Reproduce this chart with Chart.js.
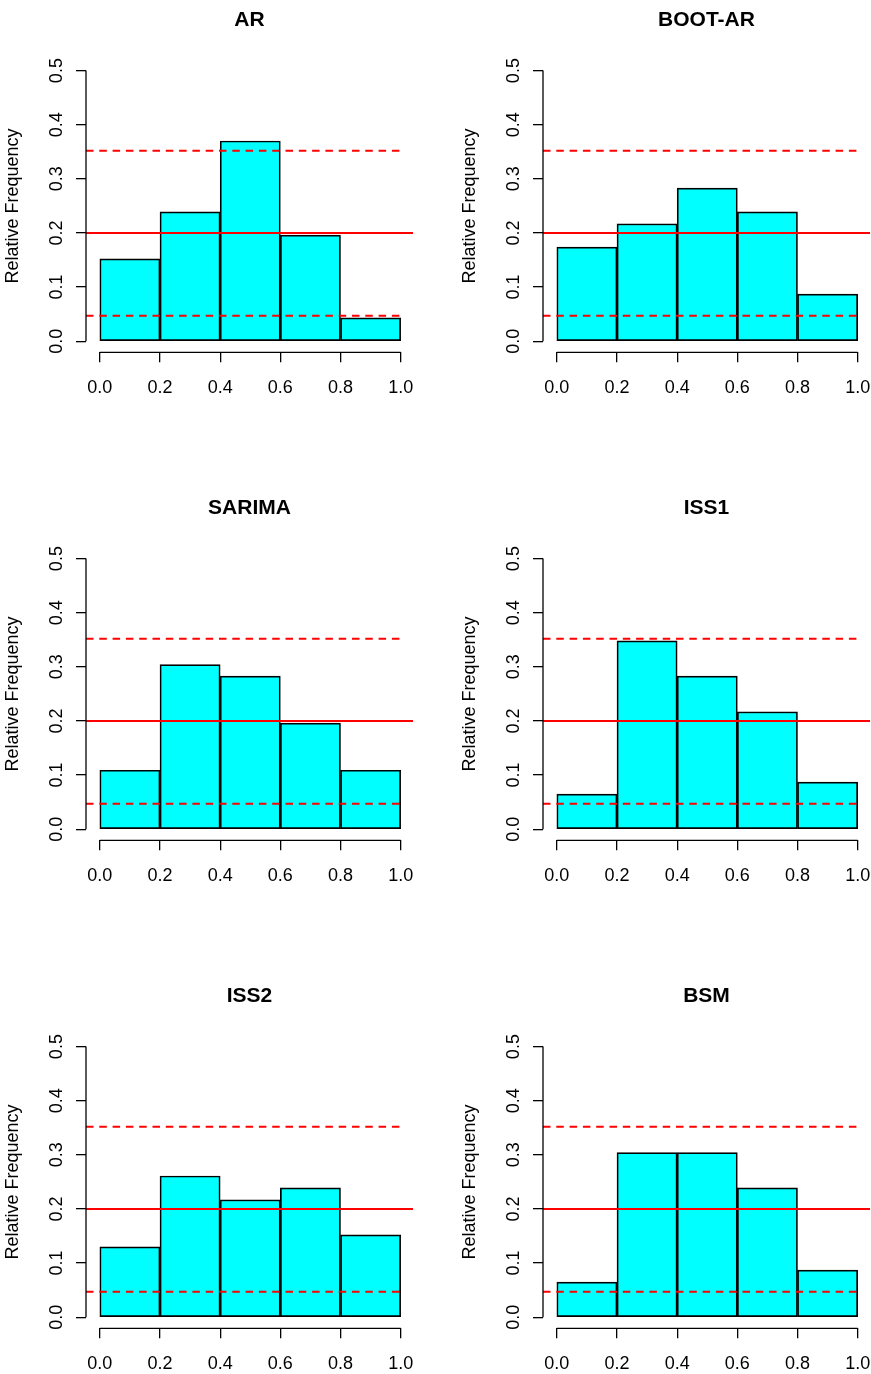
<!DOCTYPE html>
<html>
<head>
<meta charset="utf-8">
<script src="https://cdn.jsdelivr.net/npm/chart.js@4/dist/chart.umd.min.js"></script>
<style>
  html, body { margin: 0; padding: 0; background: #fff; width: 871px; height: 1374px; overflow: hidden; position: relative; }
  canvas { position: absolute; }
</style>
</head>
<body>
<script>
// ---- data ----
const panelTitles = ["AR", "BOOT-AR", "SARIMA", "ISS1", "ISS2", "BSM"];
const binCenters = [0.1, 0.3, 0.5, 0.7, 0.9];
const arFreq     = [0.152, 0.239, 0.370, 0.196, 0.043];
const bootArFreq = [0.174, 0.217, 0.283, 0.239, 0.087];
const sarimaFreq = [0.109, 0.304, 0.283, 0.196, 0.109];
const iss1Freq   = [0.065, 0.348, 0.283, 0.217, 0.087];
const iss2Freq   = [0.130, 0.261, 0.217, 0.239, 0.152];
const bsmFreq    = [0.065, 0.304, 0.304, 0.239, 0.087];
const xTickValues = [0, 0.2, 0.4, 0.6, 0.8, 1.0];
const yTickValues = [0, 0.1, 0.2, 0.3, 0.4, 0.5];
const expectedLevel = 0.2;
const upperBound = 0.352;
const lowerBound = 0.047;
const yAxisLabel = "Relative Frequency";

const seriesList = [arFreq, bootArFreq, sarimaFreq, iss1Freq, iss2Freq, bsmFreq];

// ---- layout ----
const W = 457, H = 488;
const XMIN = -0.046, XMAX = 1.041, YMIN = -0.0205, YMAX = 0.52;
const FONT = "'Liberation Sans', Arial, Helvetica, sans-serif";

const rAxisPlugin = {
  id: 'rAxis',
  afterDraw(chart, args, opts) {
    const ctx = chart.ctx;
    const xs = chart.scales.x, ys = chart.scales.y;
    const ca = chart.chartArea;
    ctx.save();
    ctx.strokeStyle = '#000';
    ctx.lineWidth = 1.3;
    // y axis line from first to last tick
    ctx.beginPath();
    ctx.moveTo(ca.left, ys.getPixelForValue(yTickValues[0]));
    ctx.lineTo(ca.left, ys.getPixelForValue(yTickValues[yTickValues.length - 1]));
    ctx.stroke();
    // x axis line
    ctx.beginPath();
    ctx.moveTo(xs.getPixelForValue(xTickValues[0]), ca.bottom);
    ctx.lineTo(xs.getPixelForValue(xTickValues[xTickValues.length - 1]), ca.bottom);
    ctx.stroke();
    // title
    ctx.fillStyle = '#000';
    ctx.font = "bold 21px " + FONT;
    ctx.textAlign = 'center';
    ctx.textBaseline = 'middle';
    ctx.fillText(opts.title, (ca.left + ca.right) / 2, 20);
    ctx.restore();
  }
};

function makeChart(idx) {
  const col = idx % 2, row = Math.floor(idx / 2);
  const cv = document.createElement('canvas');
  cv.width = W; cv.height = H;
  cv.style.width = W + 'px'; cv.style.height = H + 'px';
  cv.style.left = (col === 0 ? -21 : 436) + 'px';
  cv.style.top = (row * 488) + 'px';
  document.body.appendChild(cv);

  const vals = seriesList[idx];
  const redLine = (y, xEnd, dash) => ({
    type: 'line',
    data: [{ x: XMIN, y: y }, { x: xEnd, y: y }],
    borderColor: '#ff0000',
    borderWidth: 1.9,
    borderDash: dash,
    borderCapStyle: 'butt',
    pointRadius: 0,
    fill: false,
    tension: 0
  });

  new Chart(cv, {
    type: 'bar',
    data: {
      datasets: [
        redLine(expectedLevel, XMAX, []),
        redLine(upperBound, xTickValues[xTickValues.length - 1], [7.5, 5.8]),
        redLine(lowerBound, xTickValues[xTickValues.length - 1], [7.5, 5.8]),
        {
          type: 'bar',
          data: binCenters.map((c, i) => ({ x: c, y: vals[i] })),
          backgroundColor: '#00ffff',
          borderColor: '#000000',
          borderWidth: 1.7,
          borderSkipped: false,
          barPercentage: 1,
          categoryPercentage: 1
        }
      ]
    },
    options: {
      responsive: false,
      animation: false,
      devicePixelRatio: 1,
      layout: { padding: { top: 59.8, right: 23, left: 0, bottom: 0 } },
      plugins: {
        legend: { display: false },
        tooltip: { enabled: false },
        title: { display: false },
        rAxis: { title: panelTitles[idx] }
      },
      scales: {
        x: {
          type: 'linear',
          min: XMIN, max: XMAX,
          offset: false,
          border: { display: false },
          grid: { display: true, offset: false, drawOnChartArea: false, drawTicks: true, tickLength: 10, color: '#000', lineWidth: 1.3 },
          afterBuildTicks: (s) => { s.ticks = xTickValues.map(v => ({ value: v })); },
          afterFit: (s) => { s.height = H - 352.3; },
          ticks: {
            color: '#000',
            font: { family: FONT, size: 18 },
            padding: 15,
            maxRotation: 0, minRotation: 0,
            autoSkip: false,
            callback: (v) => Number(v).toFixed(1)
          }
        },
        y: {
          type: 'linear',
          min: YMIN, max: YMAX,
          border: { display: false },
          grid: { display: true, offset: false, drawOnChartArea: false, drawTicks: true, tickLength: 10, color: '#000', lineWidth: 1.3 },
          afterBuildTicks: (s) => { s.ticks = yTickValues.map(v => ({ value: v })); },
          afterFit: (s) => { s.width = 107; },
          ticks: {
            color: '#000',
            font: { family: FONT, size: 18 },
            padding: 6.5,
            minRotation: 90, maxRotation: 90,
            crossAlign: 'center',
            autoSkip: false,
            callback: (v) => Number(v).toFixed(1)
          },
          title: {
            display: true,
            text: yAxisLabel,
            color: '#000',
            font: { family: FONT, size: 18 },
            padding: { top: 23, bottom: 0 }
          }
        }
      }
    },
    plugins: [rAxisPlugin]
  });
}

for (let i = 0; i < 6; i++) makeChart(i);
</script>
</body>
</html>
